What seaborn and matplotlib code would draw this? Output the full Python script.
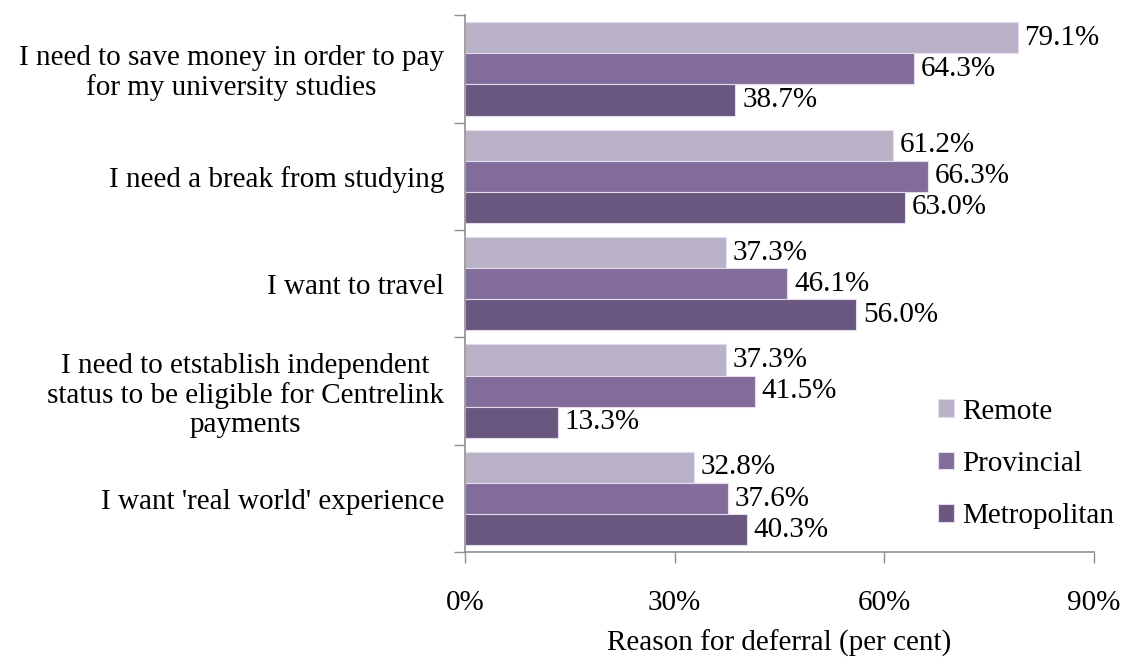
import matplotlib
matplotlib.use("Agg")
import matplotlib.pyplot as plt
import pandas as pd
import seaborn as sns
import numpy as np

# %%
reasons = ["I need to save money in order to pay\nfor my university studies",
           "I need a break from studying",
           "I want to travel",
           "I need to etstablish independent\nstatus to be eligible for Centrelink\npayments",
           "I want 'real world' experience"]
regions = ["Remote", "Provincial", "Metropolitan"]
remote = [79.1, 61.2, 37.3, 37.3, 32.8]
provincial = [64.3, 66.3, 46.1, 41.5, 37.6]
metropolitan = [38.7, 63.0, 56.0, 13.3, 40.3]
colors = ["#b8aec9", "#8064a2", "#6a5086"]

rows = []
for name, vals in zip(regions, [remote, provincial, metropolitan]):
    for r, v in zip(reasons, vals):
        rows.append({"reason": r, "region": name, "pct": v})
df = pd.DataFrame(rows)

# %%
sns.set_style("white")
plt.rcParams['font.family'] = ['Liberation Serif', 'DejaVu Serif']
plt.rcParams['text.color'] = 'black'
plt.rcParams['axes.labelcolor'] = 'black'
plt.rcParams['xtick.color'] = 'black'
plt.rcParams['ytick.color'] = 'black'

fs = 21

fig = plt.figure(figsize=(11.23, 6.59), dpi=100)
ax = fig.add_axes([0.414, 0.162, 0.560, 0.815])

sns.barplot(data=df, y="reason", x="pct", hue="region", hue_order=regions,
            palette=colors, orient="h", width=0.87, ax=ax,
            edgecolor="#e4dcec", linewidth=0.8, errorbar=None)

for cont in ax.containers:
    ax.bar_label(cont, labels=[f"{v:.1f}%" for v in cont.datavalues],
                 padding=5, fontsize=fs)

ax.set_xlim(0, 90)
ax.set_ylim(4.5, -0.5)
ax.set_xticks([0, 30, 60, 90])
ax.set_xticklabels(["0%", "30%", "60%", "90%"], fontsize=fs)
ax.tick_params(axis="x", length=8, width=1, color="#909090", pad=19, bottom=True)

ax.set_yticks(range(5))
ax.set_yticklabels(reasons, fontsize=fs, multialignment="center", linespacing=1.15)
ax.tick_params(axis="y", which="major", length=0, pad=15)
ax.set_yticks(np.arange(-0.5, 5, 1), minor=True)
ax.tick_params(axis="y", which="minor", length=8, width=1, color="#909090", left=True)

ax.set_xlabel("Reason for deferral (per cent)", fontsize=fs, labelpad=10)
ax.set_ylabel("")

for s in ["top", "right"]:
    ax.spines[s].set_visible(False)
for s in ["left", "bottom"]:
    ax.spines[s].set_color("#909090")
    ax.spines[s].set_linewidth(1.2)

ax.legend(loc="upper left", bbox_to_anchor=(0.71, 0.335), frameon=False,
          fontsize=fs, handlelength=0.55, handleheight=0.55, labelspacing=0.9,
          handletextpad=0.3)

fig.savefig("out.png", dpi=100)
